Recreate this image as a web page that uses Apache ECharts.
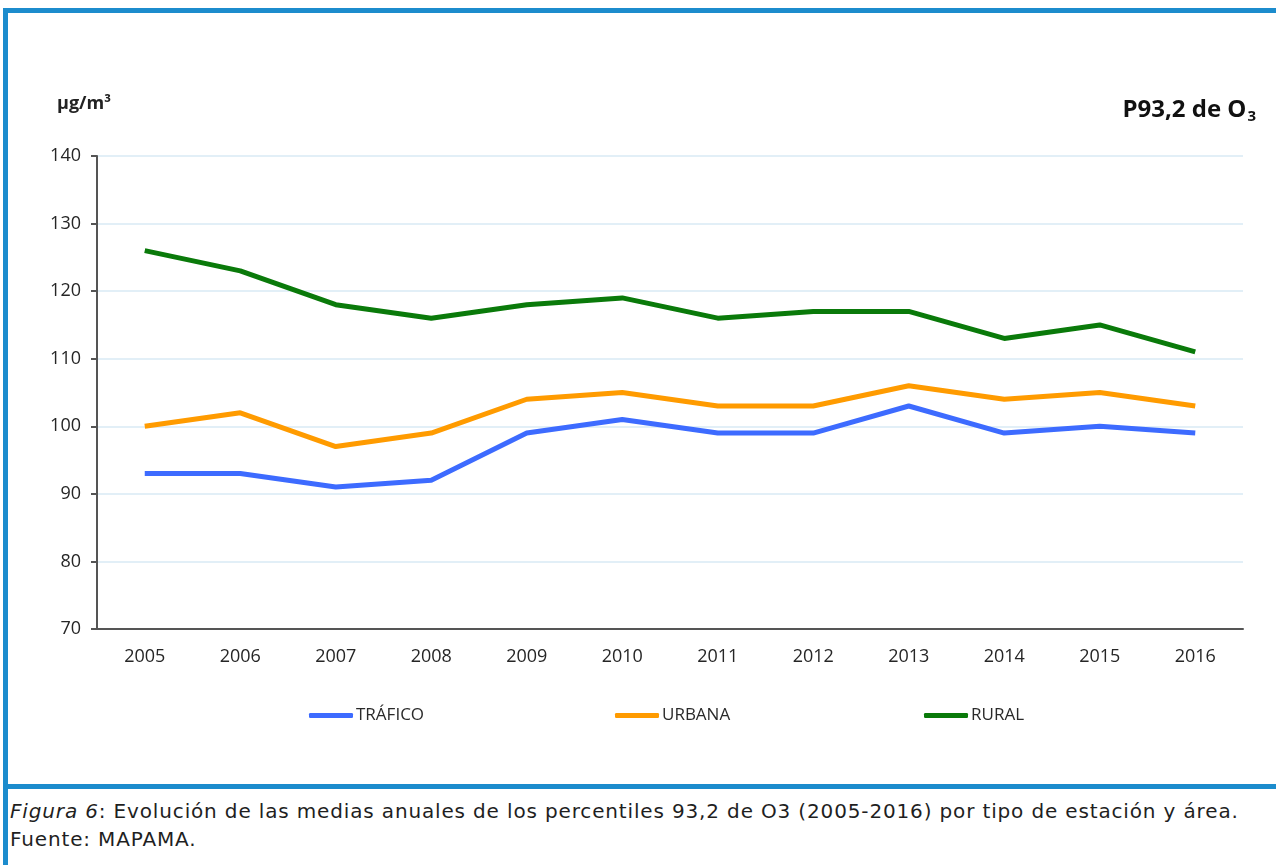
<!DOCTYPE html>
<html>
<head>
<meta charset="utf-8">
<script src="https://cdn.jsdelivr.net/npm/echarts@6/dist/echarts.min.js"></script>
<style>
  html, body { margin: 0; padding: 0; background: #fff; overflow: hidden; }
  body { width: 1276px; height: 865px; position: relative; }
  .frame {
    position: absolute; left: 3px; top: 8px; width: 1320px; height: 781px;
    box-sizing: border-box; border: 5px solid #1c8ccd; border-right: none;
  }
  .capbar { position: absolute; left: 3px; top: 789px; width: 5px; height: 76px; background: #1c8ccd; }
  .caption {
    position: absolute; left: 10px; top: 797px; width: 1266px; white-space: nowrap;
    font-family: "DejaVu Sans", sans-serif; font-size: 20px; line-height: 28px;
    letter-spacing: 0.85px; color: #1f1f1f;
  }
  #chart { position: absolute; left: 0; top: 0; width: 1276px; height: 865px; }
</style>
</head>
<body>
<div class="frame"></div>
<div class="capbar"></div>
<div class="caption"><i>Figura 6</i>: Evolución de las medias anuales de los percentiles 93,2 de O3 (2005-2016) por tipo de estación y área.<br>Fuente: MAPAMA.</div>
<div id="chart"></div>
<script>
// datos
const years = ["2005", "2006", "2007", "2008", "2009", "2010", "2011", "2012", "2013", "2014", "2015", "2016"];
const trafico = [93, 93, 91, 92, 99, 101, 99, 99, 103, 99, 100, 99];
const urbana = [100, 102, 97, 99, 104, 105, 103, 103, 106, 104, 105, 103];
const rural = [126, 123, 118, 116, 118, 119, 116, 117, 117, 113, 115, 111];
const seriesNames = ["TRÁFICO", "URBANA", "RURAL"];
const colors = ["#3d6bff", "#ff9b00", "#0a7a0a"];

const chart = echarts.init(document.getElementById("chart"));

const labelFont = '"Open Sans", sans-serif';

function legendAt(name, left) {
    return {
        data: [name],
        left: left,
        top: 707,
        padding: 0,
        icon: "roundRect",
        itemWidth: 44,
        itemHeight: 5,
        textStyle: { fontFamily: labelFont, fontSize: 17, color: "#2a2a2a", padding: [0, 0, 0, -2] },
    };
}

chart.setOption({
    animation: false,
    title: [
        {
            text: "µg/m³",
            left: 52,
            top: 90,
            textStyle: { fontFamily: labelFont, fontSize: 18, fontWeight: "bold", color: "#222" },
        },
        {
            text: "{a|P93,2 de O}{s|3}",
            right: 15,
            top: 92,
            textStyle: {
                rich: {
                    a: { fontFamily: labelFont, fontSize: 24, fontWeight: "bold", color: "#111" },
                    s: { fontFamily: labelFont, fontSize: 15, fontWeight: "bold", color: "#111", padding: [12, 0, 0, 1] },
                },
            },
        },
    ],
    legend: [
        legendAt(seriesNames[0], 309),
        legendAt(seriesNames[1], 615),
        legendAt(seriesNames[2], 924),
    ],
    grid: { left: 97, right: 33, top: 156, bottom: 236 },
    xAxis: {
        type: "category",
        data: years,
        boundaryGap: true,
        axisLine: { lineStyle: { color: "#555", width: 2 } },
        axisTick: { length: 6, lineStyle: { color: "#555", width: 2 } },
        axisLabel: { fontFamily: labelFont, fontSize: 18, color: "#262626", margin: 19 },
    },
    yAxis: {
        type: "value",
        min: 70,
        max: 140,
        interval: 10,
        axisLine: { show: true, lineStyle: { color: "#555", width: 2 } },
        axisTick: { show: true, length: 6, lineStyle: { color: "#555", width: 2 } },
        axisLabel: { fontFamily: labelFont, fontSize: 18, color: "#262626", margin: 16 },
        splitLine: { lineStyle: { color: "#e2eff7", width: 2 } },
    },
    series: [
        { name: seriesNames[0], type: "line", data: trafico },
        { name: seriesNames[1], type: "line", data: urbana },
        { name: seriesNames[2], type: "line", data: rural },
    ].map((s, i) => Object.assign(s, {
        color: colors[i],
        symbol: "none",
        lineStyle: { width: 5, color: colors[i] },
    })),
});
</script>
</body>
</html>
